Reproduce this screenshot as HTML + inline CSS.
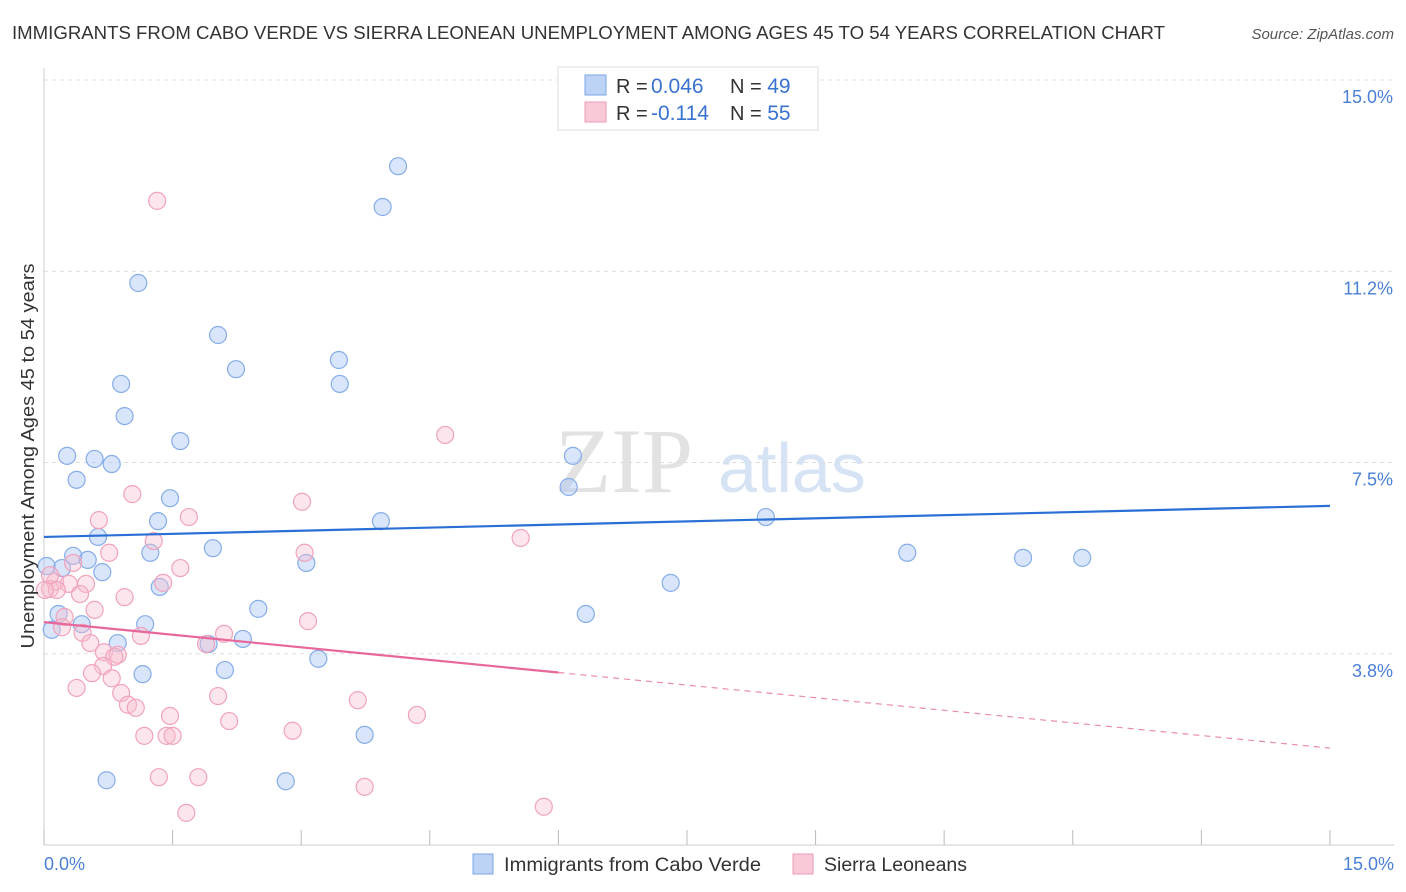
<!DOCTYPE html>
<html><head><meta charset="utf-8"><style>
body{margin:0;background:#fff;font-family:"Liberation Sans",sans-serif;}
svg{display:block}
</style></head><body>
<svg id="chart" width="1406" height="892" xmlns="http://www.w3.org/2000/svg">
<text x="12" y="39" font-size="18" fill="#333" textLength="1153" lengthAdjust="spacingAndGlyphs">IMMIGRANTS FROM CABO VERDE VS SIERRA LEONEAN UNEMPLOYMENT AMONG AGES 45 TO 54 YEARS CORRELATION CHART</text>
<text x="1394" y="39" font-size="15" fill="#555" font-style="italic" text-anchor="end">Source: ZipAtlas.com</text>
<g>
<text x="555" y="492" font-family="Liberation Serif,serif" font-size="92" fill="#e2e2e2">ZIP</text>
<text x="718" y="492" font-size="70" fill="#d6e3f5">atlas</text>
</g>
<g id="grid"></g>
<g id="axes"></g>
<g id="marks"></g>
<text transform="translate(34,456) rotate(-90)" font-size="18" fill="#333" text-anchor="middle" textLength="385" lengthAdjust="spacingAndGlyphs">Unemployment Among Ages 45 to 54 years</text>
<text x="44" y="870" font-size="18" fill="#4a7fd6">0.0%</text>
<text x="1394" y="870" font-size="18" fill="#4a7fd6" text-anchor="end">15.0%</text>
<g>
<rect x="558" y="67" width="260" height="63" fill="#fff" stroke="#ddd"/>
<rect x="585" y="75" width="21" height="20" fill="#bcd3f5" stroke="#7aa6e6"/>
<rect x="585" y="102" width="21" height="20" fill="#f9c9d7" stroke="#ef9ab5"/>
<text x="616" y="93" font-size="20" fill="#333">R = <tspan x="651" fill="#3a72d0" font-size="21">0.046</tspan></text>
<text x="730" y="93" font-size="20" fill="#333">N = <tspan fill="#3a72d0" font-size="21">49</tspan></text>
<text x="616" y="120" font-size="20" fill="#333">R = <tspan x="651" fill="#3a72d0" font-size="21">-0.114</tspan></text>
<text x="730" y="120" font-size="20" fill="#333">N = <tspan fill="#3a72d0" font-size="21">55</tspan></text>
</g>
<g>
<rect x="473" y="854" width="20" height="20" fill="#bcd3f5" stroke="#7aa6e6"/>
<text x="504" y="871" font-size="19" fill="#333" textLength="257" lengthAdjust="spacingAndGlyphs">Immigrants from Cabo Verde</text>
<rect x="793" y="854" width="20" height="20" fill="#f9c9d7" stroke="#ef9ab5"/>
<text x="824" y="871" font-size="19" fill="#333" textLength="143" lengthAdjust="spacingAndGlyphs">Sierra Leoneans</text>
</g>
</svg>
<script>
const yTicks=[15.0,11.25,7.5,3.75];
const yTickLabels=["15.0%","11.2%","7.5%","3.8%"];
const xTicks=[0,1.5,3,4.5,6,7.5,9,10.5,12,13.5,15];
const blueX=[4.13,3.95,1.10,2.03,3.44,2.24,0.90,3.45,0.94,1.59,0.27,0.59,0.79,6.17,0.38,6.12,1.47,1.33,3.93,8.42,0.63,1.97,1.24,10.07,0.34,0.51,11.42,12.11,3.06,0.21,0.68,0.03,7.31,1.35,0.17,6.32,2.50,1.18,0.44,0.09,0.86,1.92,2.32,3.20,2.11,1.15,3.74,0.73,2.82];
const blueY=[13.31,12.51,11.02,10.0,9.51,9.33,9.04,9.04,8.41,7.92,7.63,7.57,7.47,7.63,7.16,7.02,6.80,6.35,6.35,6.43,6.04,5.82,5.73,5.73,5.67,5.59,5.63,5.63,5.53,5.43,5.35,5.47,5.14,5.06,4.53,4.53,4.63,4.33,4.33,4.22,3.96,3.94,4.04,3.65,3.43,3.35,2.16,1.27,1.25];
const pinkX=[1.32,4.68,1.03,3.01,0.64,1.69,5.56,1.28,0.76,3.04,0.34,1.59,0.13,0.29,0.49,1.39,0.07,0.42,0.15,0.94,0.59,0.24,0.21,3.08,0.45,1.13,2.10,1.89,0.54,0.70,0.86,0.82,0.69,0.56,0.79,0.38,0.90,2.03,3.66,0.98,1.07,4.35,1.47,2.16,2.90,1.17,1.43,1.50,1.34,1.80,3.74,5.83,1.66,0.07,0.01];
const pinkY=[12.63,8.04,6.88,6.73,6.37,6.43,6.02,5.96,5.73,5.73,5.53,5.43,5.16,5.12,5.12,5.14,5.02,4.92,5.0,4.86,4.61,4.47,4.27,4.39,4.16,4.10,4.14,3.94,3.96,3.78,3.73,3.69,3.51,3.37,3.27,3.08,2.98,2.92,2.84,2.75,2.69,2.55,2.53,2.43,2.24,2.14,2.14,2.14,1.33,1.33,1.14,0.75,0.63,5.29,5.0];
const blueTrend=[6.04,6.65];
const pinkTrend=[4.37,1.90];
const pinkSolidEnd=6.0;

const NS="http://www.w3.org/2000/svg";
const X=v=>44+v*85.73;
const Y=v=>845-v*51;
function mk(tag,attrs,parent){const e=document.createElementNS(NS,tag);for(const k in attrs)e.setAttribute(k,attrs[k]);parent.appendChild(e);return e;}
const grid=document.getElementById('grid'),axes=document.getElementById('axes'),marks=document.getElementById('marks');
yTicks.forEach((t,i)=>{
  const l=mk('line',{x1:44,x2:1394,y1:Y(t),y2:Y(t),stroke:'#ddd','stroke-dasharray':'4,4'},grid);
  
  
  const tx=mk('text',{x:1393,y:Y(t)+23,'font-size':18,fill:'#4a7fd6','text-anchor':'end'},grid);
  tx.textContent=yTickLabels[i];
  
  
});
const xa=mk('line',{x1:44,x2:1394,y1:845,y2:845,stroke:'#ccc'},axes);


const ya=mk('line',{x1:44,x2:44,y1:68,y2:845,stroke:'#ccc'},axes);


xTicks.forEach(t=>{
  const l=mk('line',{x1:X(t),x2:X(t),y1:830,y2:845,stroke:'#bbb'},axes);
  
  
});
blueX.forEach((x,i)=>{
  const c=mk('circle',{cx:X(x),cy:Y(blueY[i]),r:8.5,fill:'rgba(168,198,243,0.45)',stroke:'#86ade9','stroke-width':1.2},marks);
  
  
});
pinkX.forEach((x,i)=>{
  const c=mk('circle',{cx:X(x),cy:Y(pinkY[i]),r:8.5,fill:'rgba(248,190,208,0.4)',stroke:'#f0a3bc','stroke-width':1.2},marks);
  
  
});
const bt=mk('line',{x1:X(0),y1:Y(blueTrend[0]),x2:X(15),y2:Y(blueTrend[1]),stroke:'#2a6fd6','stroke-width':2.2},marks);


const pm=pinkTrend[0]+(pinkTrend[1]-pinkTrend[0])*pinkSolidEnd/15;
const pt=mk('line',{x1:X(0),y1:Y(pinkTrend[0]),x2:X(pinkSolidEnd),y2:Y(pm),stroke:'#e8679a','stroke-width':2.2},marks);


const pd=mk('line',{x1:X(pinkSolidEnd),y1:Y(pm),x2:X(15),y2:Y(pinkTrend[1]),stroke:'#eb8cb0','stroke-width':1.2,'stroke-dasharray':'6,5'},marks);


</script>
</body></html>
